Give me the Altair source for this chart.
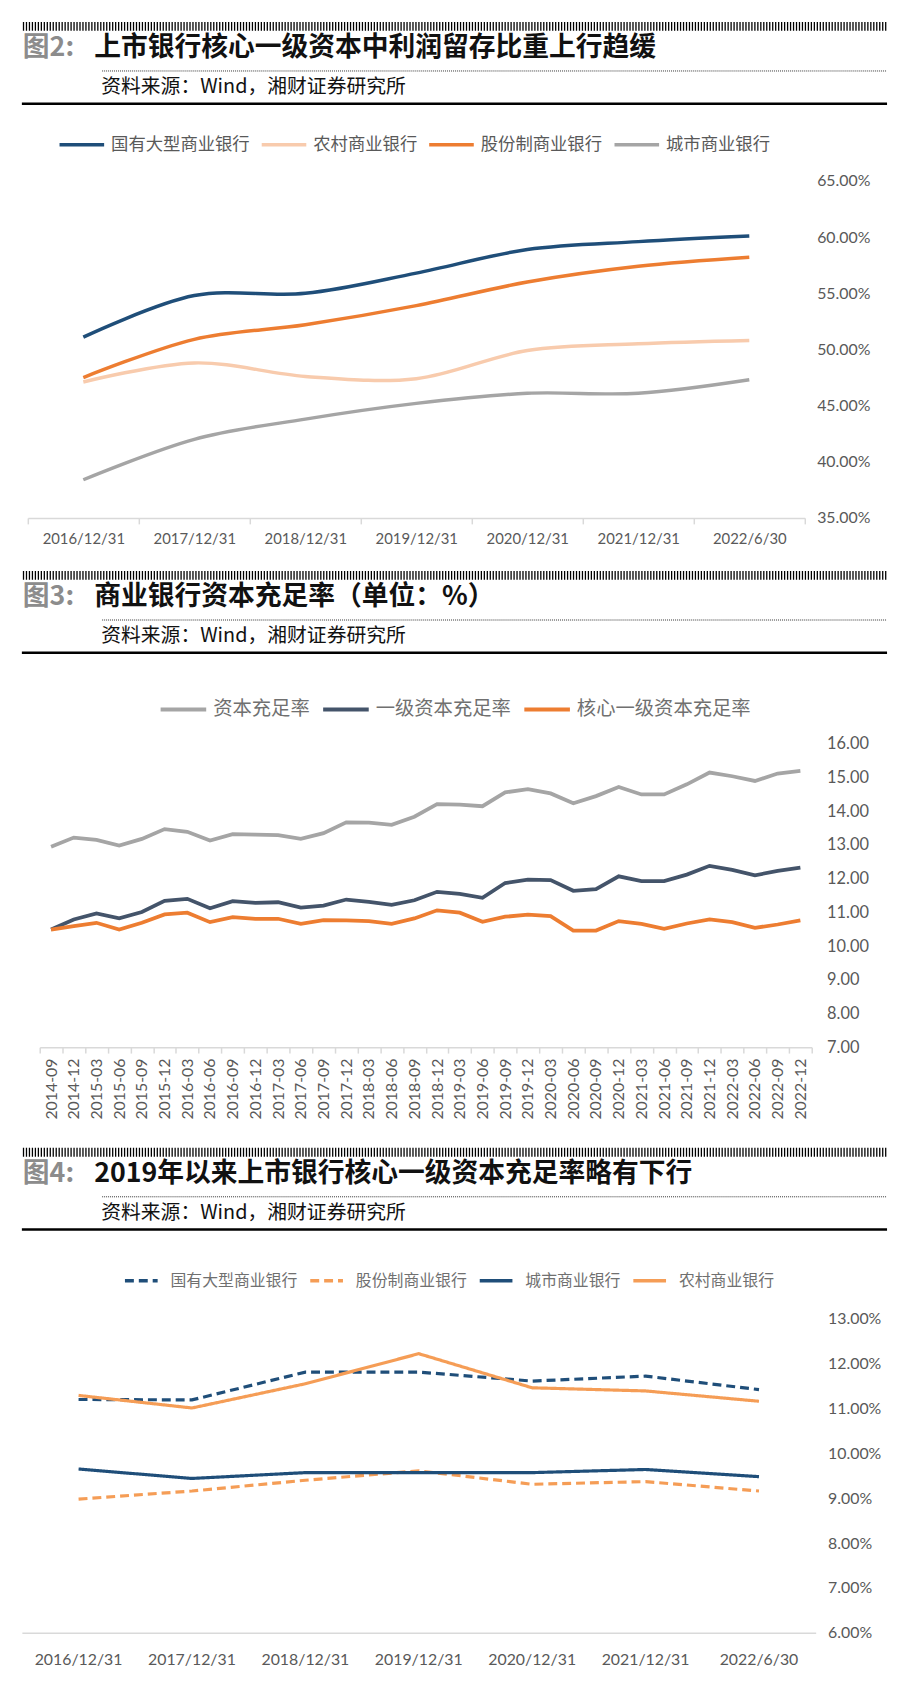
import altair as alt
import pandas as pd

CJK = "Noto Sans CJK SC"
NUM = "Lato"

# ---------------- Figure 2 data ----------------
years = ["2016/12/31", "2017/12/31", "2018/12/31", "2019/12/31", "2020/12/31", "2021/12/31", "2022/6/30"]
f2_series = ["国有大型商业银行", "农村商业银行", "股份制商业银行", "城市商业银行"]
f2_colors = ["#1f4e79", "#f8cbad", "#ed7d31", "#a5a5a5"]
f2_guoyou = [51.1, 54.8, 55.0, 56.8, 58.9, 59.6, 60.1]
f2_nongcun = [47.1, 48.8, 47.6, 47.4, 49.9, 50.5, 50.8]
f2_gufen = [47.5, 50.9, 52.2, 53.9, 56.0, 57.4, 58.2]
f2_chengshi = [38.4, 42.0, 43.8, 45.2, 46.1, 46.1, 47.3]
f2_ticks = [35, 40, 45, 50, 55, 60, 65]

# ---------------- Figure 3 data ----------------
quarters = ["2014-09", "2014-12",
            "2015-03", "2015-06", "2015-09", "2015-12",
            "2016-03", "2016-06", "2016-09", "2016-12",
            "2017-03", "2017-06", "2017-09", "2017-12",
            "2018-03", "2018-06", "2018-09", "2018-12",
            "2019-03", "2019-06", "2019-09", "2019-12",
            "2020-03", "2020-06", "2020-09", "2020-12",
            "2021-03", "2021-06", "2021-09", "2021-12",
            "2022-03", "2022-06", "2022-09", "2022-12"]
f3_series = ["资本充足率", "一级资本充足率", "核心一级资本充足率"]
f3_colors = ["#a5a5a5", "#44546a", "#ed7d31"]
f3_car = [12.95, 13.22, 13.15, 12.98, 13.18, 13.47, 13.39, 13.13, 13.32, 13.31,
          13.29, 13.18, 13.35, 13.67, 13.66, 13.60, 13.84, 14.21, 14.20, 14.15,
          14.56, 14.66, 14.53, 14.24, 14.45, 14.72, 14.50, 14.50, 14.80, 15.15,
          15.04, 14.90, 15.12, 15.20]
f3_tier1 = [10.49, 10.79, 10.97, 10.82, 11.01, 11.34, 11.40, 11.12, 11.33, 11.28,
            11.30, 11.14, 11.20, 11.38, 11.31, 11.22, 11.36, 11.61, 11.55, 11.43,
            11.87, 11.97, 11.96, 11.64, 11.69, 12.07, 11.93, 11.93, 12.12, 12.38,
            12.26, 12.10, 12.23, 12.33]
f3_core = [10.49, 10.59, 10.69, 10.49, 10.69, 10.94, 10.99, 10.71, 10.86, 10.81,
           10.81, 10.66, 10.77, 10.76, 10.74, 10.66, 10.82, 11.06, 10.99, 10.72,
           10.87, 10.93, 10.89, 10.46, 10.46, 10.74, 10.66, 10.51, 10.67, 10.79,
           10.71, 10.54, 10.64, 10.76]
f3_ticks = [7, 8, 9, 10, 11, 12, 13, 14, 15, 16]

# ---------------- Figure 4 data ----------------
f4_series = ["国有大型商业银行", "股份制商业银行", "城市商业银行", "农村商业银行"]
f4_colors = ["#1f4e79", "#f59d56", "#1f4e79", "#f59d56"]
f4_dashes = [[9, 5], [9, 5], [1, 0], [1, 0]]
f4_guoyou = [11.20, 11.19, 11.81, 11.81, 11.61, 11.72, 11.42]
f4_gufen = [8.98, 9.16, 9.40, 9.61, 9.31, 9.37, 9.16]
f4_chengshi = [9.65, 9.44, 9.57, 9.57, 9.57, 9.64, 9.48]
f4_nongcun = [11.29, 11.01, 11.55, 12.22, 11.46, 11.39, 11.16]
f4_ticks = [6, 7, 8, 9, 10, 11, 12, 13]

SOURCE = "资料来源：Wind，湘财证券研究所"

one = pd.DataFrame({"k": [0]})


def header(top, b, fig_label, title):
    """Header block; b = page y of the barcode strip, top = page y of the panel."""
    r = lambda y: y - top
    base = alt.Chart(one)
    layers = [
        base.mark_rule(color="black", strokeWidth=9, strokeDash=[1.3, 1.7]).encode(
            x=alt.value(7), x2=alt.value(879), y=alt.value(r(b))),
        base.mark_text(text=fig_label, align="left", baseline="middle", font=CJK,
                       fontSize=27, fontWeight="bold", color="#8c8c8c").encode(
            x=alt.value(7), y=alt.value(r(b + 22))),
        base.mark_text(text=title, align="left", baseline="middle", font=CJK,
                       fontSize=27, fontWeight="bold", color="#111111").encode(
            x=alt.value(79), y=alt.value(r(b + 22))),
        base.mark_rule(color="#333333", strokeWidth=1, strokeDash=[1, 1]).encode(
            x=alt.value(87), x2=alt.value(879), y=alt.value(r(b + 45))),
        base.mark_text(text=SOURCE, align="left", baseline="middle", font=CJK,
                       fontSize=20, color="#111111").encode(
            x=alt.value(86), y=alt.value(r(b + 61))),
        base.mark_rule(color="black", strokeWidth=2.5).encode(
            x=alt.value(6), x2=alt.value(879), y=alt.value(r(b + 78))),
    ]
    return layers


# ---------------- Panel 2 ----------------
T2, B2 = 8, 515
rows = []
for s, vals in zip(f2_series, [f2_guoyou, f2_nongcun, f2_gufen, f2_chengshi]):
    for d, v in zip(years, vals):
        rows.append({"date": d, "series": s, "value": v})
df2 = pd.DataFrame(rows)

line2 = alt.Chart(df2).mark_line(strokeWidth=3.5, interpolate="catmull-rom").encode(
    x=alt.X("date:O", bandPosition=0.5,
            scale=alt.Scale(type="band", domain=years, range=[20 - 8, 804 - 8],
                            paddingInner=0, paddingOuter=0),
            axis=alt.Axis(title=None, labelAngle=0, domainColor="#d9d9d9", domainWidth=1.5,
                          tickColor="#d9d9d9", tickSize=6, tickWidth=1.5, tickBand="extent",
                          labelPadding=8, labelFont=NUM, labelFontSize=15,
                          labelColor="#595959")),
    y=alt.Y("value:Q",
            scale=alt.Scale(domain=[35, 65], range=[B2 - T2, 175 - T2], nice=False, zero=False),
            axis=alt.Axis(title=None, orient="right", values=f2_ticks, domain=False, ticks=False,
                          grid=False, labelPadding=8, labelFont=NUM, labelFontSize=16,
                          labelColor="#595959",
                          labelExpr="format(datum.value, '.2f') + '%'")),
    color=alt.Color("series:N", sort=f2_series,
                    scale=alt.Scale(domain=f2_series, range=f2_colors),
                    legend=alt.Legend(orient="none", legendX=42, legendY=130 - 24,
                                      direction="horizontal", title=None, symbolType="stroke",
                                      symbolSize=2025, symbolStrokeWidth=3.5,
                                      labelFont=CJK, labelFontSize=17.5, labelColor="#595959",
                                      labelOffset=5, columnPadding=5, padding=0,
                                      labelLimit=400)),
)
panel2 = alt.layer(line2, *header(T2, 19, "图2:", "上市银行核心一级资本中利润留存比重上行趋缓")).properties(
    width=800, height=B2 - T2)

# ---------------- Panel 3 ----------------
SP = 40
T3, B3 = B2 + SP, 1049
rows = []
for s, vals in zip(f3_series, [f3_car, f3_tier1, f3_core]):
    for d, v in zip(quarters, vals):
        rows.append({"date": d, "series": s, "value": v})
df3 = pd.DataFrame(rows)

line3 = alt.Chart(df3).mark_line(strokeWidth=3.8).encode(
    x=alt.X("date:O", bandPosition=0.5,
            scale=alt.Scale(type="band", domain=quarters, range=[32 - 8, 811 - 8],
                            paddingInner=0, paddingOuter=0),
            axis=alt.Axis(title=None, labelAngle=270, labelAlign="right", labelBaseline="middle",
                          domainColor="#d9d9d9", domainWidth=1.5,
                          tickColor="#d9d9d9", tickSize=6, tickWidth=1.5, tickBand="extent",
                          labelPadding=5, labelFont=NUM, labelFontSize=16,
                          labelColor="#595959")),
    y=alt.Y("value:Q",
            scale=alt.Scale(domain=[7, 16], range=[B3 - T3, 743 - T3], nice=False, zero=False),
            axis=alt.Axis(title=None, orient="right", values=f3_ticks, domain=False, ticks=False,
                          grid=False, labelPadding=8, labelFont=NUM, labelFontSize=16.5,
                          labelColor="#595959", format=".2f")),
    color=alt.Color("series:N", sort=f3_series,
                    scale=alt.Scale(domain=f3_series, range=f3_colors),
                    legend=alt.Legend(orient="none", legendX=144, legendY=(707 - T3) - 24,
                                      direction="horizontal", title=None, symbolType="stroke",
                                      symbolSize=2116, symbolStrokeWidth=4,
                                      labelFont=CJK, labelFontSize=19.5, labelColor="#707070",
                                      labelOffset=5, columnPadding=5, padding=0,
                                      labelLimit=400)),
)
panel3 = alt.layer(line3, *header(T3, 573, "图3:", "商业银行资本充足率（单位：%）")).properties(
    width=810, height=B3 - T3)

# ---------------- Panel 4 ----------------
T4, B4 = B3 + SP, 1640
rows = []
for s, vals in zip(f4_series, [f4_guoyou, f4_gufen, f4_chengshi, f4_nongcun]):
    for d, v in zip(years, vals):
        rows.append({"date": d, "series": s, "value": v})
df4 = pd.DataFrame(rows)

leg4 = alt.Legend(orient="none", legendX=108, legendY=(1284 - T4) - 18,
                  direction="horizontal", title=None, symbolType="stroke",
                  symbolSize=1089, symbolStrokeWidth=3.5,
                  labelFont=CJK, labelFontSize=16, labelColor="#707070",
                  labelOffset=11, columnPadding=5, padding=0, labelLimit=400)

line4 = alt.Chart(df4).mark_line(strokeWidth=3.2).encode(
    x=alt.X("date:O", bandPosition=0.5,
            scale=alt.Scale(type="band", domain=years, range=[14 - 8, 815 - 8],
                            paddingInner=0, paddingOuter=0),
            axis=alt.Axis(title=None, labelAngle=0, domainColor="#d9d9d9", domainWidth=1.5,
                          ticks=False, labelPadding=19, labelFont=NUM, labelFontSize=16,
                          labelColor="#595959")),
    y=alt.Y("value:Q",
            scale=alt.Scale(domain=[6, 13], range=[B4 - T4, 1323 - T4], nice=False, zero=False),
            axis=alt.Axis(title=None, orient="right", values=f4_ticks, domain=False, ticks=False,
                          grid=False, labelPadding=8, labelFont=NUM, labelFontSize=16,
                          labelColor="#595959",
                          labelExpr="format(datum.value, '.2f') + '%'")),
    color=alt.Color("series:N", sort=f4_series,
                    scale=alt.Scale(domain=f4_series, range=f4_colors), legend=leg4),
    strokeDash=alt.StrokeDash("series:N", sort=f4_series,
                              scale=alt.Scale(domain=f4_series, range=f4_dashes), legend=leg4),
)
panel4 = alt.layer(line4, *header(T4, 1155, "图4:", "2019年以来上市银行核心一级资本充足率略有下行")).properties(
    width=811, height=B4 - T4)

chart = alt.vconcat(panel2, panel3, panel4, spacing=SP, bounds="flush").resolve_scale(
    color="independent", strokeDash="independent"
).resolve_legend(
    color="independent", strokeDash="independent"
).properties(
    padding={"left": 0, "top": 0, "right": 0, "bottom": 0},
    background="white",
).configure_view(stroke=None)

chart.save("out.html", embed_options={"renderer": "svg", "actions": False})
